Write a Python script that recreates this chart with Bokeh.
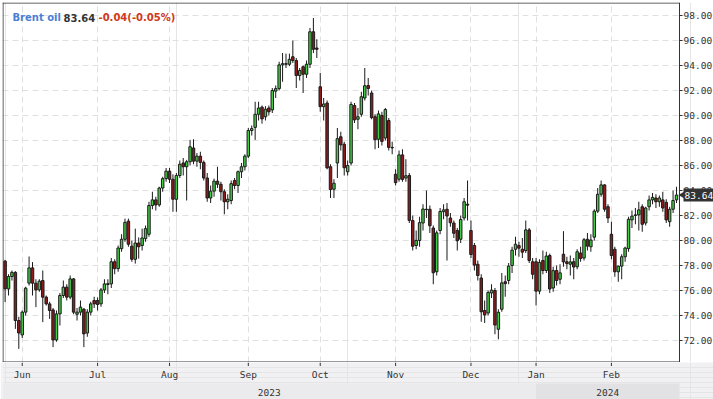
import numpy as np
import pandas as pd
from bokeh.plotting import figure
from bokeh.models import Range1d, FixedTicker, NumeralTickFormatter, Grid, Label, ColumnDataSource
from bokeh.layouts import column
from bokeh.embed import file_html
from bokeh.resources import INLINE
from bokeh.core.properties import value

# ---------------- data (Brent oil, daily OHLC) ----------------
instrument = "Brent oil"
change_txt = "-0.04(-0.05%)"

opens = [
    # May 2023 (25-31)
    78.35, 76.13, 77.12, 77.45, 73.60,
    # Jun
    72.45, 74.27, 76.59, 77.81, 76.59, 76.05, 76.80, 75.47, 74.93, 74.45, 72.05,
    74.13, 75.60, 76.27, 75.47, 76.93, 74.10, 74.27, 74.50, 72.60, 74.27, 75.20,
    # Jul
    75.20, 74.93, 76.05, 76.48, 76.53, 78.30, 77.75, 79.35, 80.10, 81.55, 79.55,
    78.50, 79.80, 79.60, 80.15, 80.50, 82.80, 83.25, 82.85, 84.20, 84.95,
    # Aug
    85.55, 84.90, 83.30, 85.20, 86.20, 85.90, 86.30, 87.40, 86.35, 86.75, 86.25,
    85.00, 83.40, 83.95, 84.75, 84.50, 83.90, 83.10, 83.20, 84.80, 84.40, 85.50, 85.90,
    # Sep
    86.75, 88.80, 89.05, 90.10, 90.67, 89.90, 90.60, 90.45, 91.95, 92.15, 94.05,
    94.15, 94.10, 94.70, 94.40, 93.20, 93.90, 93.30, 94.10, 96.70, 95.40,
    # Oct
    92.30, 90.71, 91.00, 85.90, 84.10, 86.20, 88.30, 87.70, 85.50, 86.20, 90.80,
    89.70, 90.10, 91.40, 92.40, 91.80, 89.90, 88.10, 90.00, 88.20, 89.60, 87.45,
    # Nov
    85.30, 84.90, 86.85, 85.00, 85.20, 81.60, 79.60, 80.00, 81.40, 82.50, 82.50,
    81.00, 77.50, 80.80, 82.30, 82.50, 81.80, 81.40, 80.80, 80.10, 81.80, 82.90,
    # Dec
    80.80, 79.60, 78.10, 77.00, 74.40, 74.20, 75.80, 76.00, 72.90, 74.50, 76.70,
    76.80, 78.00, 79.30, 79.60, 79.30, 79.20, 80.85, 78.30,
    # Jan 2024
    78.30, 75.95, 78.40, 77.60, 78.80, 76.20, 77.60, 76.90, 78.90, 78.30, 78.10,
    78.30, 77.90, 79.00, 78.60, 80.10, 79.50, 80.27, 82.35, 83.70, 84.45, 82.70,
    # Feb 2024
    80.50, 79.30, 77.50, 77.95, 78.70, 79.35, 81.65, 82.00, 82.05, 82.70, 81.40,
    82.70, 83.25, 83.40, 83.10, 83.25, 83.05, 81.50, 82.50, 83.25,
]
highs = [
    78.45, 77.30, 77.60, 77.55, 73.90,
    74.40, 76.30, 78.72, 78.27, 76.90, 76.90, 77.60, 75.60, 75.10, 74.60, 74.40,
    75.80, 76.80, 76.50, 77.20, 77.00, 74.60, 75.20, 74.60, 74.50, 75.10, 75.50,
    75.45, 76.20, 76.90, 76.90, 78.60, 78.50, 79.60, 80.50, 81.75, 81.75, 80.00,
    80.95, 80.25, 80.95, 81.20, 83.10, 83.90, 83.50, 84.30, 85.10, 85.80,
    85.80, 85.30, 85.40, 86.40, 86.60, 86.45, 88.05, 88.10, 87.00, 87.10, 86.40,
    85.40, 84.40, 84.95, 85.90, 84.70, 84.10, 83.70, 84.80, 85.00, 85.60, 86.20, 86.90,
    89.00, 89.20, 91.10, 91.10, 90.80, 90.75, 90.80, 92.20, 92.40, 94.30, 95.00,
    94.95, 94.95, 96.00, 94.60, 93.80, 94.00, 94.40, 97.00, 97.80, 96.10,
    93.40, 91.40, 91.20, 86.10, 84.90, 89.00, 88.70, 87.90, 86.40, 91.10, 91.00,
    90.60, 91.90, 93.80, 93.00, 92.00, 90.10, 90.40, 90.30, 90.60, 89.80, 87.90,
    85.70, 87.20, 87.30, 86.50, 85.40, 82.00, 80.80, 81.90, 82.90, 84.00, 82.80,
    81.20, 80.80, 82.60, 82.90, 83.00, 82.20, 81.60, 81.00, 82.00, 83.40, 84.80,
    81.60, 79.80, 78.40, 77.30, 75.20, 76.00, 76.50, 76.20, 74.50, 77.40, 77.20,
    78.20, 79.50, 80.30, 79.90, 80.20, 81.60, 81.00, 78.60,
    78.60, 78.50, 79.20, 79.10, 78.95, 77.90, 78.00, 78.10, 80.75, 78.70, 78.80,
    78.60, 79.30, 79.50, 80.20, 80.60, 80.50, 82.50, 84.20, 84.80, 84.50, 82.90,
    81.50, 79.50, 78.00, 78.90, 79.50, 81.90, 82.40, 82.60, 83.10, 82.90, 82.70,
    83.60, 83.80, 83.70, 83.60, 83.90, 83.30, 82.70, 84.00, 84.30,
]
lows = [
    75.07, 75.60, 76.80, 72.93, 71.33,
    72.20, 74.00, 76.40, 75.60, 74.67, 75.90, 73.47, 74.80, 73.73, 71.47, 71.90,
    73.20, 75.40, 75.20, 75.30, 74.10, 73.60, 74.00, 71.47, 72.30, 74.00, 74.60,
    74.40, 74.70, 75.80, 75.70, 76.20, 77.30, 77.50, 79.10, 79.90, 79.50, 78.30,
    78.15, 78.55, 79.20, 79.90, 80.30, 82.50, 82.40, 82.70, 83.90, 84.70,
    84.60, 82.30, 82.30, 85.00, 85.20, 83.20, 86.00, 86.10, 85.90, 85.70, 84.80,
    83.10, 83.00, 83.50, 84.20, 83.20, 82.10, 82.50, 82.90, 84.10, 83.80, 85.00, 85.60,
    86.60, 88.40, 88.05, 89.60, 89.35, 89.60, 90.00, 90.20, 91.40, 92.00, 92.70,
    93.80, 93.95, 94.20, 92.20, 92.80, 91.80, 93.00, 93.80, 95.00, 94.60,
    90.30, 89.60, 85.70, 83.40, 83.40, 85.00, 87.20, 85.20, 85.20, 86.00, 89.40,
    88.90, 89.90, 91.20, 91.60, 89.70, 87.30, 87.40, 87.60, 88.00, 87.20, 86.90,
    84.40, 84.70, 84.70, 84.70, 81.40, 79.20, 79.30, 79.50, 80.80, 81.80, 80.60,
    76.50, 77.20, 80.50, 81.70, 78.40, 81.10, 80.20, 79.20, 79.80, 81.60, 81.60,
    78.60, 77.60, 76.80, 73.50, 73.40, 74.00, 75.40, 72.50, 72.10, 74.30, 75.50,
    76.50, 77.40, 78.80, 78.70, 78.60, 79.00, 78.20, 76.90,
    74.80, 75.70, 77.30, 77.40, 75.80, 75.90, 76.40, 76.50, 77.90, 77.70, 77.20,
    76.90, 77.70, 78.30, 78.40, 79.20, 79.10, 80.00, 82.20, 83.50, 82.30, 81.40,
    78.50, 77.10, 76.70, 76.90, 78.30, 79.10, 81.00, 81.30, 80.80, 80.70, 81.20,
    82.40, 82.90, 82.60, 82.70, 82.30, 81.40, 81.10, 82.20, 83.00,
]
closes = [
    76.13, 77.12, 77.45, 73.60, 72.60,
    74.27, 76.19, 77.81, 76.59, 76.05, 76.75, 75.47, 74.93, 74.40, 72.05, 74.13,
    75.60, 76.27, 75.47, 76.93, 74.27, 74.27, 74.67, 72.53, 74.27, 74.93, 74.93,
    74.88, 76.05, 76.53, 76.55, 78.30, 77.75, 79.40, 80.10, 81.45, 79.70, 78.50,
    79.80, 79.50, 80.20, 80.95, 82.80, 83.25, 82.85, 84.20, 84.95, 85.55,
    84.90, 83.30, 85.20, 86.10, 85.90, 86.30, 87.50, 86.35, 86.75, 86.25, 85.00,
    83.40, 83.95, 84.75, 84.50, 83.90, 83.10, 83.30, 84.55, 84.40, 85.50, 85.90, 86.75,
    88.80, 88.95, 90.10, 90.60, 89.73, 90.50, 90.30, 92.00, 92.15, 94.05, 94.15,
    94.10, 94.50, 94.40, 93.20, 93.60, 93.30, 94.10, 96.70, 95.30, 95.30,
    90.71, 90.92, 85.81, 84.07, 84.58, 88.15, 87.65, 85.82, 86.00, 90.89, 89.65,
    89.90, 91.50, 92.38, 92.16, 89.83, 88.07, 90.13, 87.93, 90.48, 87.45, 87.41,
    84.63, 86.85, 84.89, 85.18, 81.61, 79.54, 80.01, 81.43, 82.52, 82.47, 81.18,
    77.42, 80.61, 82.32, 82.45, 81.96, 81.42, 80.58, 79.98, 81.68, 83.10, 82.83,
    78.88, 78.03, 77.20, 74.30, 74.05, 75.84, 76.03, 73.24, 74.26, 76.61, 76.55,
    77.95, 79.23, 79.70, 79.39, 79.07, 80.85, 78.40, 77.30,
    75.95, 78.25, 77.60, 78.76, 76.12, 77.59, 76.80, 77.41, 78.29, 78.15, 78.29,
    77.88, 79.10, 78.56, 80.06, 79.55, 80.04, 82.35, 83.70, 84.45, 82.50, 81.80,
    78.80, 77.50, 77.95, 78.70, 79.40, 81.70, 81.95, 82.05, 82.45, 81.30, 82.60,
    83.25, 83.45, 83.10, 83.40, 82.60, 81.65, 82.50, 83.20, 83.64,
]
y_ticks = [72, 74, 76, 78, 80, 82, 84, 86, 88, 90, 92, 94, 96, 98]

# trading days (ICE Brent), holidays removed
days = pd.bdate_range("2023-05-25", "2024-02-28")
closed = pd.to_datetime(["2023-12-25", "2023-12-26", "2024-01-01"])
days = days[~days.isin(closed)]
n = len(days)
assert n == len(opens) == len(highs) == len(lows) == len(closes)
idx = np.arange(n)

month_idx = [i for i in range(1, n) if days[i].month != days[i - 1].month]
month_lbl = [days[i].strftime("%b") for i in month_idx]
year_split = next(i for i in range(n) if days[i].year == 2024)

# ---------------- geometry ----------------
W = 713
BL = 2               # left border
FW = W - BL          # frame width
AX_PX = 677          # axis line inside the frame (page x 679)
MAIN_H = 362         # frame y 2..362
BAND_H = 37
FIRST_PX, LAST_PX = 2.6, 674.0
pxu = (LAST_PX - FIRST_PX) / (n - 1)
X0 = -FIRST_PX / pxu
XEND = X0 + FW / pxu
XAX = X0 + AX_PX / pxu
Y0, Y1 = 70.24, 99.04
pyu = (MAIN_H - 2) / (Y1 - Y0)

p = figure(width=W, height=MAIN_H, x_range=Range1d(X0, XEND), y_range=Range1d(Y0, Y1),
           x_axis_location=None, y_axis_location="right",
           output_backend="svg", toolbar_location=None,
           min_border_left=BL, min_border_top=2, min_border_bottom=0, min_border_right=0)
p.background_fill_color = "white"
p.border_fill_color = "white"
p.outline_line_color = None

yax = p.yaxis[0]
yax.fixed_location = XAX
yax.ticker = FixedTicker(ticks=y_ticks)
yax.formatter = NumeralTickFormatter(format="0.00")
yax.major_label_text_font = "DejaVu Sans Mono"
yax.major_label_text_font_size = "9.5px"
yax.major_label_text_color = "#333333"
yax.major_label_standoff = 1
yax.major_tick_out = 3
yax.major_tick_in = 0
yax.minor_tick_out = 0
yax.minor_tick_in = 0
yax.axis_line_color = "#333333"
yax.major_tick_line_color = "#333333"

p.ygrid.ticker = FixedTicker(ticks=y_ticks)
p.ygrid.bounds = (X0, XAX)
p.ygrid.grid_line_color = "#e0e0e0"
p.ygrid.grid_line_dash = "6 4"
p.add_layout(Grid(dimension=0, ticker=FixedTicker(ticks=month_idx),
                  grid_line_color="#e0e0e0", grid_line_dash="6 4"))

# plot-area border (top, left, bottom) in dark grey
bx = X0 + 0.5 / pxu
p.segment(x0=[X0, bx, X0], y0=[Y1 - 0.5 / pyu, Y0, Y0 + 0.5 / pyu],
          x1=[XAX, bx, XAX], y1=[Y1 - 0.5 / pyu, Y1, Y0 + 0.5 / pyu],
          line_color="#333333", line_width=1)

o = np.array(opens)
c = np.array(closes)
src = ColumnDataSource(dict(
    x=idx, h=highs, l=lows,
    top=np.maximum(o, c), bottom=np.minimum(o, c),
    color=["#44cc44" if cc >= oo else "#8e1c1c" for oo, cc in zip(o, c)],
))
p.segment(x0="x", y0="h", x1="x", y1="l", source=src, line_color="#1a1a1a", line_width=1)
p.vbar(x="x", width=0.72, top="top", bottom="bottom", source=src,
       fill_color="color", line_color="#1a1a1a", line_width=1)

# legend text (top-left)
leg_y = Y1 - 15 / pyu
last = closes[-1]
last_txt = f"{last:.2f}"
for txt, px, col in [(instrument, 10, "#4a7fd4"), (last_txt, 61, "#333333"), (change_txt, 96, "#d0381a")]:
    p.add_layout(Label(x=X0 + px / pxu, y=leg_y, text=txt, text_color=col,
                       text_font="DejaVu Sans", text_font_size="10px",
                       text_font_style="bold", text_baseline="alphabetic"))

# last price marker on the right axis
r1 = p.rect(x=[XAX + 19 / pxu], y=[last], width=30, height=13,
            width_units="screen", height_units="screen",
            fill_color="#333333", line_color=None)
r2 = p.scatter(x=[XAX + 3.5 / pxu], y=[last], marker="triangle", angle=np.pi / 2,
               size=8, fill_color="#333333", line_color=None)
r3 = p.text(x=[XAX + 5 / pxu], y=[last], text=[last_txt], text_color="white",
            text_font=value("DejaVu Sans Mono"), text_font_size="9.5px",
            text_baseline="middle", text_align="left")
for r in (r1, r2, r3):
    r.level = "overlay"

# ---------------- month / year strip ----------------
q = figure(width=W, height=BAND_H, x_range=p.x_range, y_range=Range1d(BAND_H, 0),
           x_axis_location=None, y_axis_location=None,
           output_backend="svg", toolbar_location=None,
           min_border_left=BL, min_border_right=0, min_border_top=0, min_border_bottom=0)
q.background_fill_color = "#f1f1f3"
q.border_fill_color = "#f1f1f3"
q.outline_line_color = None

q.quad(left=[X0, year_split], right=[year_split, XAX], top=[21, 21], bottom=[BAND_H, BAND_H],
       fill_color=["#ebebed", "#e2e2e4"], line_color=None)
q.segment(x0=month_idx, y0=[0] * len(month_idx), x1=month_idx, y1=[3.5] * len(month_idx),
          line_color="#333333", line_width=1)
q.text(x=month_idx, y=[12] * len(month_idx), text=month_lbl, text_align="center",
       text_baseline="middle", text_font=value("DejaVu Sans Mono"), text_font_size="9.5px",
       text_color="#333333")
q.text(x=[(X0 + year_split) / 2, (year_split + XAX) / 2], y=[29.5, 29.5], text=["2023", "2024"],
       text_align="center", text_baseline="middle", text_font=value("DejaVu Sans Mono"),
       text_font_size="9.5px", text_color="#333333")

layout = column(p, q, spacing=0)
open("out.html", "w").write(file_html(layout, INLINE))
